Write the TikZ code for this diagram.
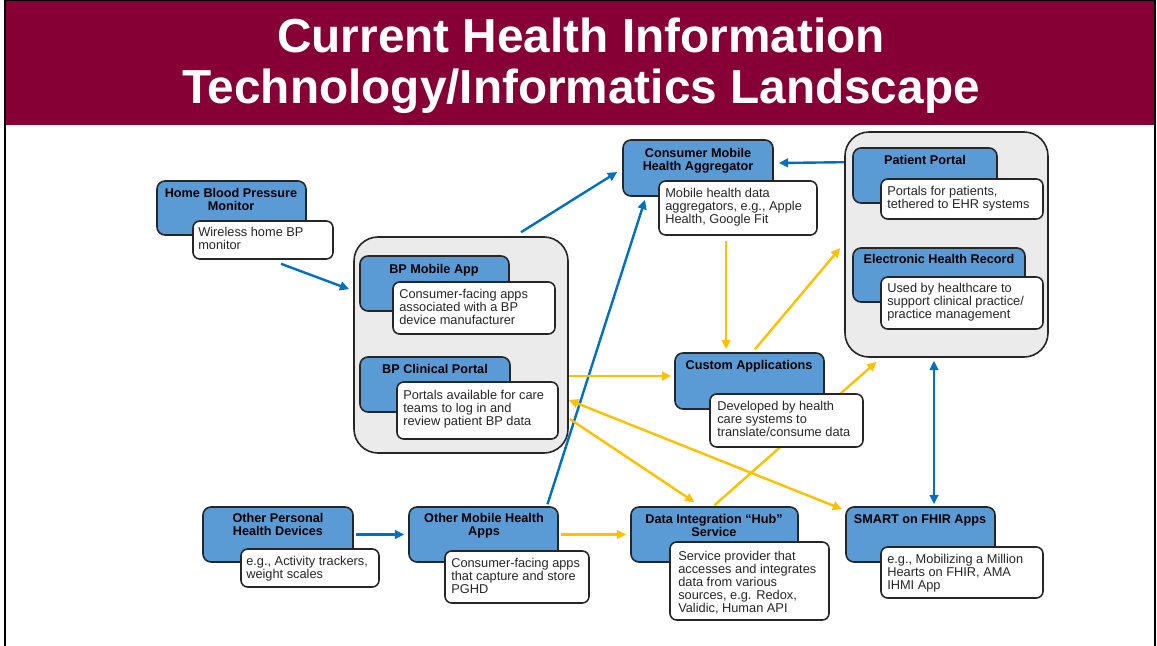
\documentclass[tikz,border=0pt]{standalone}
\usepackage{fontspec}
\setmainfont{Liberation Sans}
\usetikzlibrary{arrows.meta,fit,calc,backgrounds}
\definecolor{titlered}{RGB}{134,0,54}
\definecolor{boxblue}{RGB}{91,155,213}
\definecolor{linkblue}{RGB}{0,112,192}
\definecolor{linkgold}{RGB}{255,192,0}
\definecolor{groupgray}{RGB}{235,235,235}
\definecolor{edgegray}{RGB}{38,38,38}
\begin{document}
\begin{tikzpicture}[x=0.75pt,y=0.75pt,yscale=-1,xscale=1,
	group/.style={draw=edgegray,line width=1.2pt,fill=groupgray,rounded corners=18pt,inner sep=0pt},
	bluebox/.style={draw=edgegray,line width=1.2pt,fill=boxblue,rounded corners=6pt,inner sep=0pt},
	notebox/.style={draw=edgegray,line width=1.2pt,fill=white,rounded corners=5pt,inner sep=0pt},
	head/.style={anchor=north,inner sep=0pt,align=center,font=\fontsize{9.5pt}{9.9pt}\selectfont\bfseries},
	note/.style={anchor=north west,inner sep=0pt,align=left,font=\fontsize{9.6pt}{9.8pt}\selectfont,text=black!85},
	bluelink/.style={draw=linkblue,line width=1.8pt,-{Triangle[length=7pt,width=6.5pt]}},
	goldlink/.style={draw=linkgold,line width=1.8pt,-{Triangle[length=7pt,width=6.5pt]}}]
		\useasboundingbox (0,0) rectangle (1157,646);

		%Title band
		\fill[titlered] (5,0) rectangle (1155,125);
		\draw[line width=1.5pt] (5,0) -- (5,646);
		\draw[line width=1.5pt] (1155,0) -- (1155,646);
		\draw[line width=1.5pt] (5,0) -- (1155,0);
		\node[text=white,align=center,inner sep=0pt,font=\fontsize{35.8pt}{38.6pt}\selectfont\bfseries] (title) at (581,66) {Current Health Information\\Technology/Informatics Landscape};

		%Groups
		\node[group,fit={(354,237) (568,453)}] (bpG) {};
		\node[group,fit={(845,132) (1048,357)}] (rgG) {};

		%Blue boxes
		\node[bluebox,fit={(157,181) (306,235)}] (hbpB) {};
		\node[bluebox,fit={(360,256) (509,311)}] (bmaB) {};
		\node[bluebox,fit={(360,357) (510,412)}] (bcpB) {};
		\node[bluebox,fit={(623,140) (773,196)}] (cmhaB) {};
		\node[bluebox,fit={(853,148) (997,203)}] (ppB) {};
		\node[bluebox,fit={(853,248) (1025,302)}] (ehrB) {};
		\node[bluebox,fit={(675,353) (824,409)}] (caB) {};
		\node[bluebox,fit={(631,507) (798,562)}] (dhB) {};
		\node[bluebox,fit={(846,507) (995,562)}] (smartB) {};
		\node[bluebox,fit={(203,507) (353,562)}] (opdB) {};
		\node[bluebox,fit={(409,507) (558,562)}] (omhB) {};

		%White note boxes
		\node[notebox,fit={(193,221) (333,259)}] (hbpW) {};
		\node[notebox,fit={(393,282) (555,334)}] (bmaW) {};
		\node[notebox,fit={(397,382) (558,439)}] (bcpW) {};
		\node[notebox,fit={(659,181) (817,235)}] (cmhaW) {};
		\node[notebox,fit={(881,179) (1043,219)}] (ppW) {};
		\node[notebox,fit={(881,277) (1043,329)}] (ehrW) {};
		\node[notebox,fit={(710,394) (863,447)}] (caW) {};
		\node[notebox,fit={(670,542) (829,620)}] (dhW) {};
		\node[notebox,fit={(881,547) (1043,598)}] (smartW) {};
		\node[notebox,fit={(241,549) (379,587)}] (opdW) {};
		\node[notebox,fit={(445,551) (589,603)}] (omhW) {};

		% Heading nodes
		\node[head] (hbpT) at (231,188) {Home Blood Pressure\\Monitor};
		\node[head] (bmaT) at (434,264) {BP Mobile App};
		\node[head] (bcpT) at (435,364) {BP Clinical Portal};
		\node[head] (cmhaT) at (698,148) {Consumer Mobile\\Health Aggregator};
		\node[head] (ppT) at (925,155) {Patient Portal};
		\node[head] (ehrT) at (939,254) {Electronic Health Record};
		\node[head] (caT) at (749,360) {Custom Applications};
		\node[head] (dhT) at (714,514) {Data Integration “Hub”\\Service};
		\node[head] (smartT) at (920,514) {SMART on FHIR Apps};
		\node[head] (opdT) at (278,513) {Other Personal\\Health Devices};
		\node[head] (omhT) at (484,513) {Other Mobile Health\\Apps};

		% Note text nodes
		\node[note] (hbpN) at (198,227) {Wireless home BP\\monitor};
		\node[note] (bmaN) at (399,289) {Consumer-facing apps\\associated with a BP\\device manufacturer};
		\node[note] (bcpN) at (403,390) {Portals available for care\\teams to log in and\\review patient BP data};
		\node[note] (cmhaN) at (665,188) {Mobile health data\\aggregators, e.g., Apple\\Health, Google Fit};
		\node[note] (ppN) at (887,186) {Portals for patients,\\tethered to EHR systems};
		\node[note] (ehrN) at (887,283) {Used by healthcare to\\support clinical practice/\\practice management};
		\node[note] (caN) at (717,401) {Developed by health\\care systems to\\translate/consume data};
		\node[note] (dhN) at (678,551) {Service provider that\\accesses and integrates\\data from various\\sources, e.g. Redox,\\Validic, Human API};
		\node[note] (smartN) at (887,554) {e.g., Mobilizing a Million\\Hearts on FHIR, AMA\\IHMI App};
		\node[note] (opdN) at (246,556) {e.g., Activity trackers,\\weight scales};
		\node[note] (omhN) at (451,558) {Consumer-facing apps\\that capture and store\\PGHD};

		% Connectors
		\begin{pgfonlayer}{background}
		\draw[bluelink] ($(hbpW.south)+(18,4)$) -- ($(bpG.north west)+(-4,53)$);
		\draw[bluelink] ($(bpG.north)+(60,-4)$) -- ($(cmhaB.west)+(-5,4)$);
		\draw[bluelink] ($(omhB.north)+(64,-2)$) -- ($(cmhaB.south)+(-53,3)$);
		\draw[bluelink] ($(rgG.north west)+(0,31)$) -- ($(cmhaB.east)+(5,-5)$);
		\draw[bluelink] ($(opdB.east)+(2,0)$) -- ($(omhB.west)+(-4,0)$);
		\draw[bluelink,{Triangle[length=7pt,width=6.5pt]}-{Triangle[length=7pt,width=6.5pt]}] ($(rgG.south)+(-12.5,3)$) -- ($(smartB.north)+(13.5,-2)$);

		\draw[goldlink] ($(cmhaW.south)+(-12,5)$) -- ($(caB.north)+(-23.5,-3)$);
		\draw[goldlink] ($(caB.north)+(5.5,-3)$) -- ($(rgG.west)+(-4,3.5)$);
		\draw[goldlink] ($(bpG.east)+(0,31)$) -- ($(caB.west)+(-3,-5)$);
		\draw[goldlink] ($(dhB.north)+(0,-1)$) -- ($(rgG.south)+(-70,4)$);
		\draw[goldlink] ($(bpG.east)+(1,74)$) -- ($(dhB.north)+(-20,-4)$);
		\draw[goldlink,{Triangle[length=7pt,width=6.5pt]}-{Triangle[length=7pt,width=6.5pt]}] ($(bpG.east)+(0,55)$) -- ($(smartB.north west)+(-3,3)$);
		\draw[goldlink] ($(omhB.east)+(2,0)$) -- ($(dhB.west)+(-4,0)$);
		\end{pgfonlayer}
\end{tikzpicture}
\end{document}
